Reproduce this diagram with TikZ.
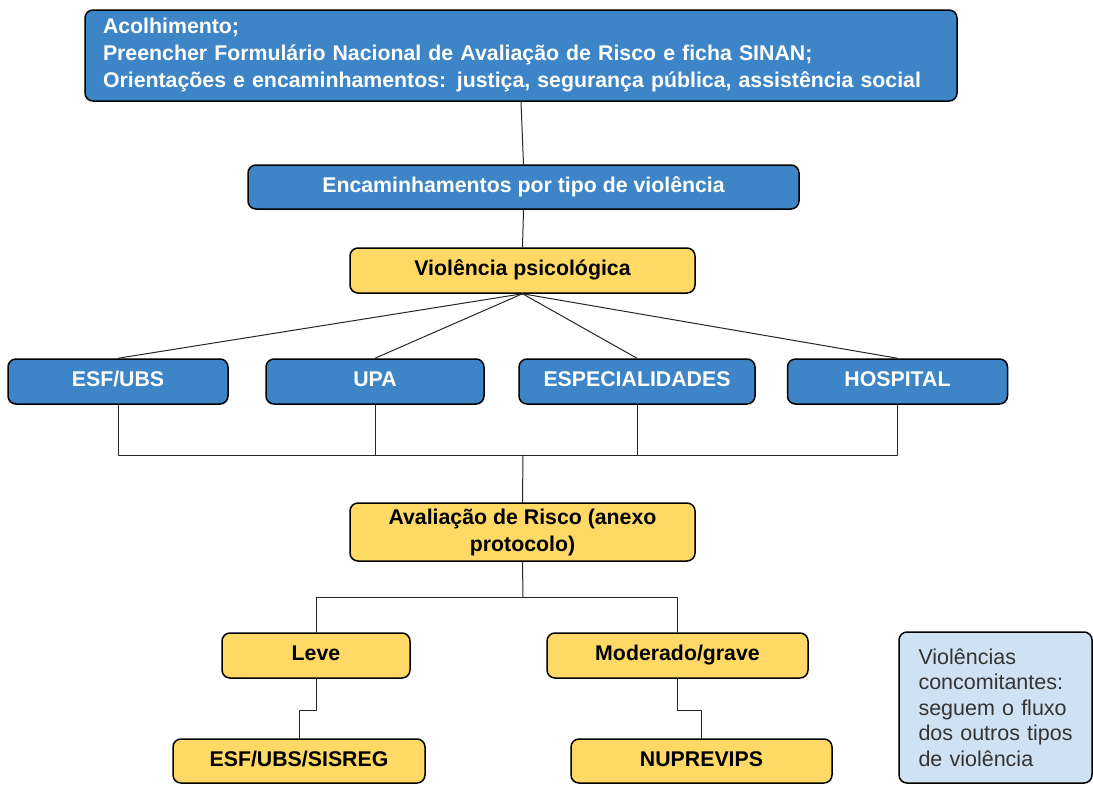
\documentclass[tikz,border=0pt]{standalone}
\usepackage{fontspec}
\setmainfont{Liberation Sans}
\usepackage{tikz}
\usetikzlibrary{arrows}
\definecolor{laatikkosin}{HTML}{3D85C6}
\definecolor{laatikkokel}{HTML}{FFD966}
\definecolor{huomio}{HTML}{CFE2F3}
\tikzset{
  perus/.style={draw=black,line width=1.5pt,rounded corners=8pt,font=\fontsize{21.3}{27}\selectfont\bfseries,inner sep=0pt},
  rivi/.style={text height=15pt,text depth=5pt},
  sininen/.style={perus,fill=laatikkosin,text=white},
  keltainen/.style={perus,fill=laatikkokel,text=black},
  viiva/.style={line width=1pt,color=black!85}
}
\begin{document}
\begin{tikzpicture}[line cap=round,line join=round,x=1pt,y=1pt]
\useasboundingbox (0,0) rectangle (1093,-785);
%ylin laatikko
\node [sininen,minimum width=872,minimum height=91,text width=836,align=left] (alku) at (521,-55.5)
  {Acolhimento;\\Preencher Formulário Nacional de Avaliação de Risco e ficha SINAN;\\Orientações e encaminhamentos: justiça, segurança pública, assistência social};
\node [sininen,rivi,minimum width=551,minimum height=44] (tipo) at (523.5,-187) {Encaminhamentos por tipo de violência};
\node [keltainen,rivi,minimum width=345,minimum height=45] (psico) at (522.5,-270.5) {Violência psicológica};
%palvelut
\node [sininen,rivi,minimum width=220,minimum height=45] (esf) at (118,-381.5) {ESF/UBS};
\node [sininen,rivi,minimum width=218,minimum height=45] (upa) at (375,-381.5) {UPA};
\node [sininen,rivi,minimum width=236,minimum height=45] (espec) at (637,-381.5) {ESPECIALIDADES};
\node [sininen,rivi,minimum width=220,minimum height=45] (hosp) at (897.5,-381.5) {HOSPITAL};
%arviointi
\node [keltainen,minimum width=345,minimum height=58,align=center] (aval) at (522.5,-532) {Avaliação de Risco (anexo\\protocolo)};
\node [keltainen,rivi,minimum width=188,minimum height=45] (leve) at (316,-655.5) {Leve};
\node [keltainen,rivi,minimum width=261,minimum height=45] (grave) at (677.5,-655.5) {Moderado/grave};
\node [keltainen,rivi,minimum width=252,minimum height=44] (sisreg) at (299,-761) {ESF/UBS/SISREG};
\node [keltainen,rivi,minimum width=261,minimum height=44] (nuprev) at (701.5,-761) {NUPREVIPS};
%huomio
\node [perus,fill=huomio,text=black!80,font=\fontsize{21.5}{25.5}\selectfont,minimum width=193,minimum height=151,text width=180,align=left] (huom) at (995.5,-707.5)
  {\leftskip=13pt Violências\\concomitantes:\\seguem o fluxo\\dos outros tipos\\de violência\par};
%viivat
\coordinate (yhd) at (523,-455);
\coordinate (jako) at (523,-597);
\draw[viiva] (alku.south) -- (tipo.north);
\draw[viiva] (tipo.south) -- (psico.north);
\foreach \k in {esf,upa,espec,hosp}
{
\draw[viiva] (psico.south) -- (\k.north);
\draw[viiva] (\k.south) |- (yhd);
}
\draw[viiva] (yhd) -- (aval.north);
\draw[viiva] (aval.south) -- (jako);
\draw[viiva] (jako) -| (leve.north);
\draw[viiva] (jako) -| (grave.north);
\draw[viiva] (leve.south) -- ++(0,-32) -| (sisreg.north);
\draw[viiva] (grave.south) -- ++(0,-32) -| (nuprev.north);
\end{tikzpicture}
\end{document}
